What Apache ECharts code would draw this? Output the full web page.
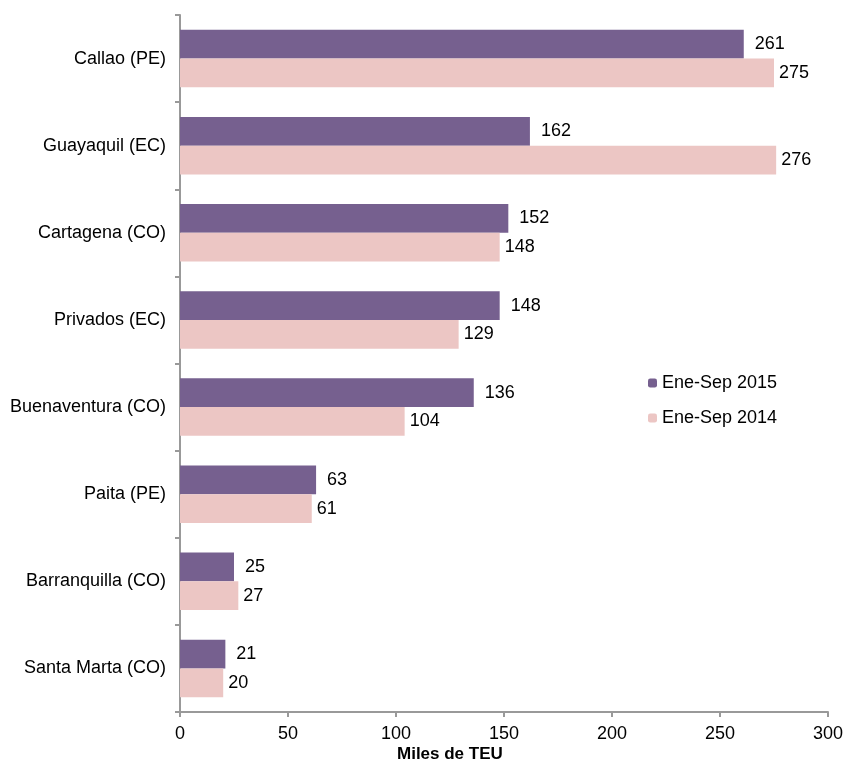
<!DOCTYPE html>
<html><head><meta charset="utf-8">
<script src="https://cdn.jsdelivr.net/npm/echarts@6/dist/echarts.min.js"></script>
<style>html,body{margin:0;padding:0;background:#fff}#c{width:854px;height:765px}</style>
</head><body><div id="c"></div>
<script>
const categories = ['Callao (PE)','Guayaquil (EC)','Cartagena (CO)','Privados (EC)','Buenaventura (CO)','Paita (PE)','Barranquilla (CO)','Santa Marta (CO)'];
const values2015 = [261,162,152,148,136,63,25,21];
const values2014 = [275,276,148,129,104,61,27,20];
const seriesNames = ['Ene-Sep 2015','Ene-Sep 2014'];
const xTicks = {min:0, max:300, interval:50};
const font = 'Liberation Sans, Arial, sans-serif';
const chart = echarts.init(document.getElementById('c'));
chart.setOption({
  animation:false,
  grid:{left:180, right:26, top:15, bottom:53},
  legend:{orient:'vertical', left:643, top:369, itemWidth:9, itemHeight:9, itemGap:17,
    data:seriesNames, textStyle:{fontFamily:font, fontSize:18, color:'#000'}},
  xAxis:{type:'value', min:xTicks.min, max:xTicks.max, interval:xTicks.interval,
    splitLine:{show:false},
    axisLine:{show:true, lineStyle:{color:'#999', width:2}},
    axisTick:{show:true, length:5, lineStyle:{color:'#999', width:2}},
    axisLabel:{fontFamily:font, fontSize:18, color:'#000', margin:13}},
  yAxis:{type:'category', data:categories, inverse:true,
    axisLine:{lineStyle:{color:'#999', width:2}},
    axisTick:{show:true, length:5, lineStyle:{color:'#999', width:2}},
    axisLabel:{fontFamily:font, fontSize:18, color:'#000', margin:14}},
  graphic:[{type:'text', left:397, top:746, style:{text:'Miles de TEU', font:'bold 17px '+font, fill:'#000'}}],
  series:[
    {name:seriesNames[0], type:'bar', data:values2015, barGap:'0%', barCategoryGap:'34%',
      itemStyle:{color:'#76608f'},
      label:{show:true, position:'right', distance:11, fontFamily:font, fontSize:18, color:'#000'}},
    {name:seriesNames[1], type:'bar', data:values2014, barGap:'0%', barCategoryGap:'34%',
      itemStyle:{color:'#ecc6c4'},
      label:{show:true, position:'right', distance:5, fontFamily:font, fontSize:18, color:'#000'}}
  ]
});
</script></body></html>
